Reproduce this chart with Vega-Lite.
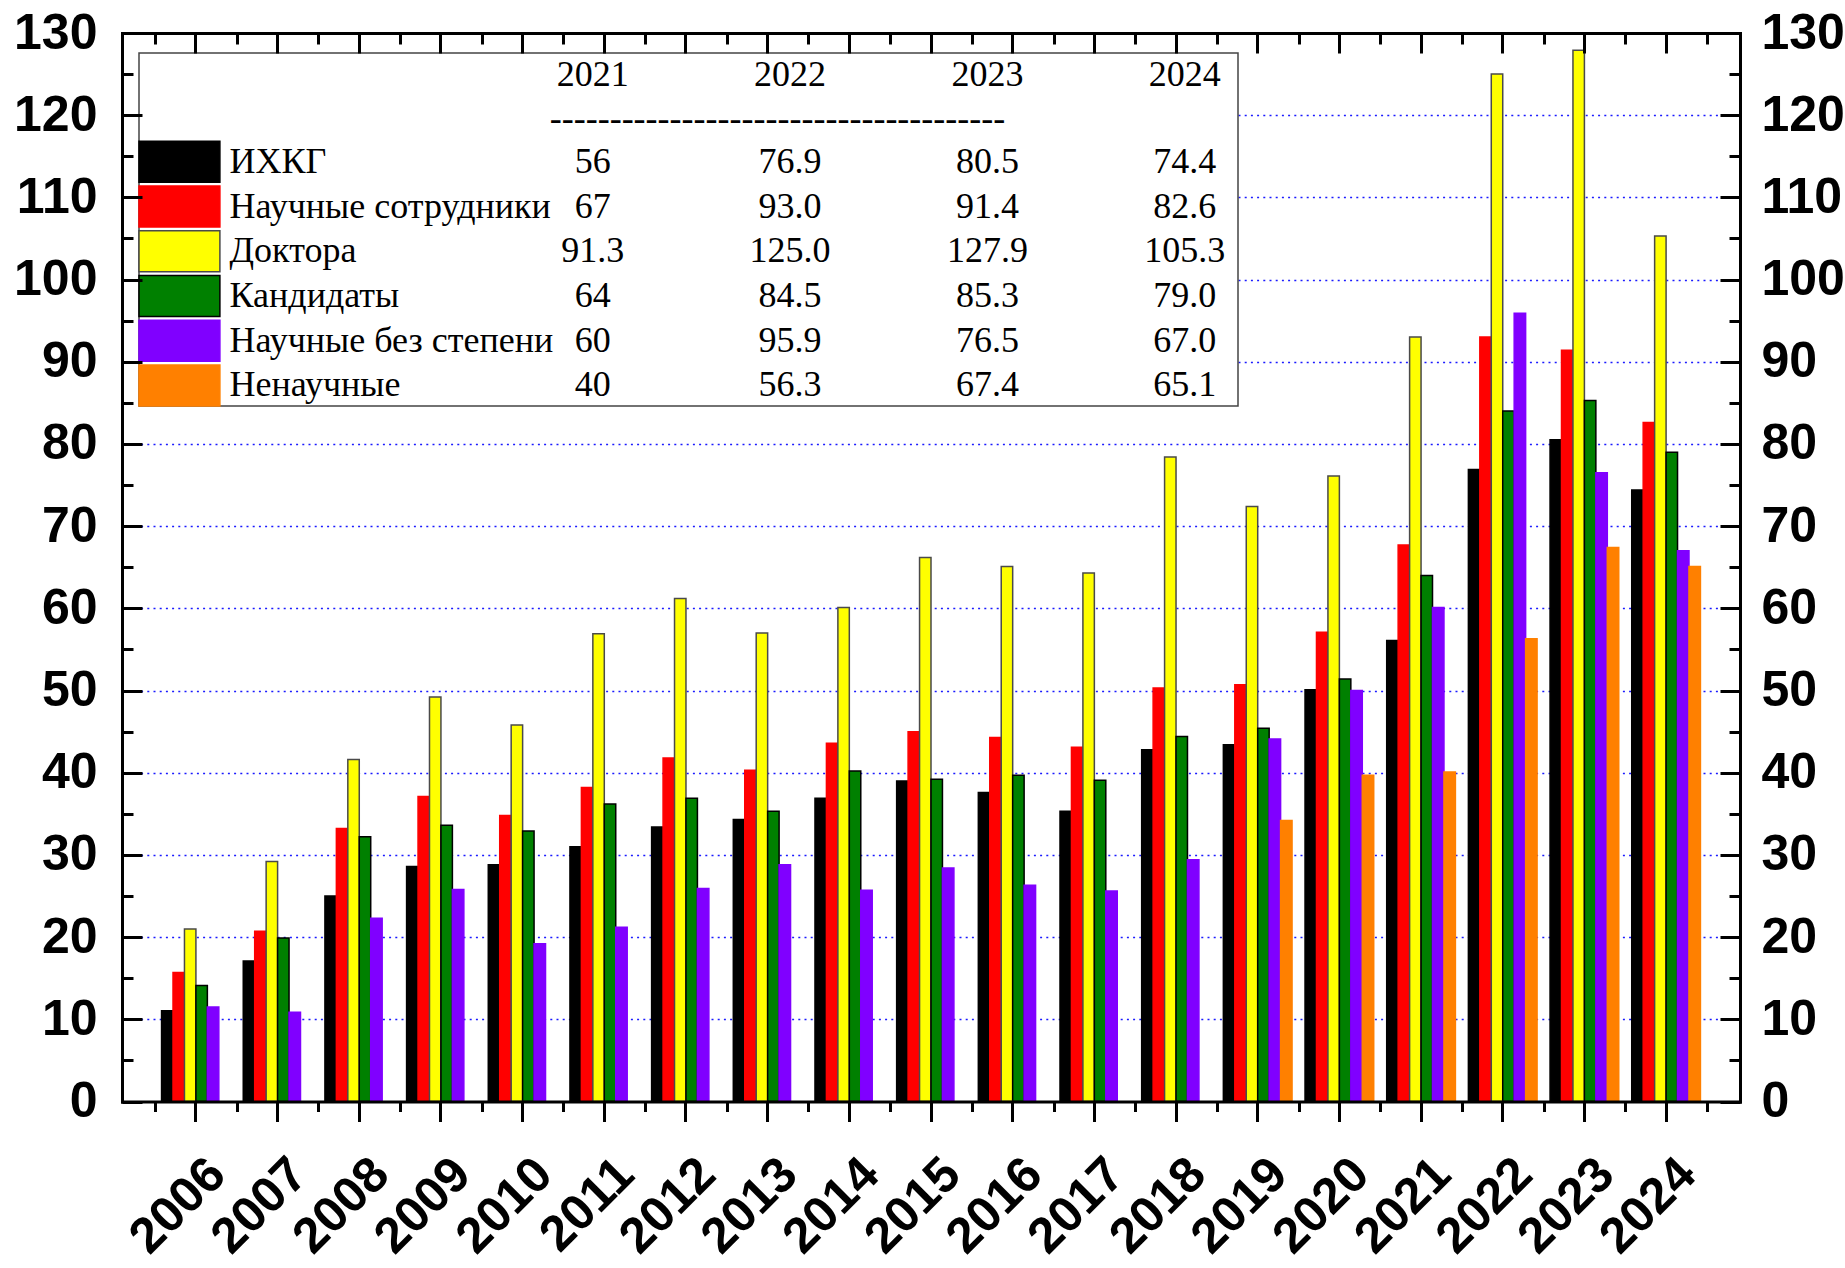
{
  "$schema": "https://vega.github.io/schema/vega-lite/v6.json",
  "width": 1618,
  "height": 1068.5,
  "autosize": {"type": "none"},
  "padding": {"left": 122, "top": 33, "right": 105, "bottom": 166.5},
  "background": "white",
  "config": {
    "view": {"stroke": null},
    "axis": {
      "labelFont": "Liberation Sans",
      "labelFontWeight": "bold",
      "labelFontSize": 50,
      "labelColor": "black",
      "tickColor": "black",
      "domainColor": "black",
      "tickWidth": 3,
      "domainWidth": 3,
      "domainCap": "square",
      "grid": false,
      "labelOverlap": false,
      "labelBound": false
    }
  },
  "datasets": {
    "bars": [
      {"year": "2006", "ИХКГ": 11.05, "Научные сотрудники": 15.7, "Доктора": 21.0, "Кандидаты": 14.1, "Научные без степени": 11.5},
      {"year": "2007", "ИХКГ": 17.1, "Научные сотрудники": 20.7, "Доктора": 29.2, "Кандидаты": 19.9, "Научные без степени": 10.85},
      {"year": "2008", "ИХКГ": 25.0, "Научные сотрудники": 33.2, "Доктора": 41.6, "Кандидаты": 32.2, "Научные без степени": 22.3},
      {"year": "2009", "ИХКГ": 28.6, "Научные сотрудники": 37.1, "Доктора": 49.2, "Кандидаты": 33.6, "Научные без степени": 25.8},
      {"year": "2010", "ИХКГ": 28.8, "Научные сотрудники": 34.8, "Доктора": 45.8, "Кандидаты": 32.9, "Научные без степени": 19.2},
      {"year": "2011", "ИХКГ": 31.0, "Научные сотрудники": 38.2, "Доктора": 56.9, "Кандидаты": 36.2, "Научные без степени": 21.2},
      {"year": "2012", "ИХКГ": 33.4, "Научные сотрудники": 41.8, "Доктора": 61.2, "Кандидаты": 36.9, "Научные без степени": 25.9},
      {"year": "2013", "ИХКГ": 34.3, "Научные сотрудники": 40.3, "Доктора": 57.0, "Кандидаты": 35.3, "Научные без степени": 28.8},
      {"year": "2014", "ИХКГ": 36.9, "Научные сотрудники": 43.6, "Доктора": 60.1, "Кандидаты": 40.2, "Научные без степени": 25.7},
      {"year": "2015", "ИХКГ": 39.0, "Научные сотрудники": 45.0, "Доктора": 66.2, "Кандидаты": 39.2, "Научные без степени": 28.4},
      {"year": "2016", "ИХКГ": 37.6, "Научные сотрудники": 44.3, "Доктора": 65.1, "Кандидаты": 39.7, "Научные без степени": 26.3},
      {"year": "2017", "ИХКГ": 35.3, "Научные сотрудники": 43.1, "Доктора": 64.3, "Кандидаты": 39.1, "Научные без степени": 25.6},
      {"year": "2018", "ИХКГ": 42.8, "Научные сотрудники": 50.3, "Доктора": 78.4, "Кандидаты": 44.4, "Научные без степени": 29.4},
      {"year": "2019", "ИХКГ": 43.4, "Научные сотрудники": 50.7, "Доктора": 72.4, "Кандидаты": 45.4, "Научные без степени": 44.1, "Ненаучные": 34.2},
      {"year": "2020", "ИХКГ": 50.1, "Научные сотрудники": 57.1, "Доктора": 76.1, "Кандидаты": 51.4, "Научные без степени": 50.0, "Ненаучные": 39.7},
      {"year": "2021", "ИХКГ": 56.1, "Научные сотрудники": 67.7, "Доктора": 93.0, "Кандидаты": 64.0, "Научные без степени": 60.1, "Ненаучные": 40.1},
      {"year": "2022", "ИХКГ": 76.9, "Научные сотрудники": 93.0, "Доктора": 125.0, "Кандидаты": 84.0, "Научные без степени": 95.9, "Ненаучные": 56.3},
      {"year": "2023", "ИХКГ": 80.5, "Научные сотрудники": 91.4, "Доктора": 127.9, "Кандидаты": 85.3, "Научные без степени": 76.5, "Ненаучные": 67.4},
      {"year": "2024", "ИХКГ": 74.4, "Научные сотрудники": 82.6, "Доктора": 105.3, "Кандидаты": 79.0, "Научные без степени": 67.0, "Ненаучные": 65.1}
    ],
    "series": [
      {"series": "ИХКГ"},
      {"series": "Научные сотрудники"},
      {"series": "Доктора"},
      {"series": "Кандидаты"},
      {"series": "Научные без степени"},
      {"series": "Ненаучные"}
    ],
    "header": [{"year": 2021}, {"year": 2022}, {"year": 2023}, {"year": 2024}],
    "table": [
      {"series": "ИХКГ", "year": 2021, "v": "56"},
      {"series": "ИХКГ", "year": 2022, "v": "76.9"},
      {"series": "ИХКГ", "year": 2023, "v": "80.5"},
      {"series": "ИХКГ", "year": 2024, "v": "74.4"},
      {"series": "Научные сотрудники", "year": 2021, "v": "67"},
      {"series": "Научные сотрудники", "year": 2022, "v": "93.0"},
      {"series": "Научные сотрудники", "year": 2023, "v": "91.4"},
      {"series": "Научные сотрудники", "year": 2024, "v": "82.6"},
      {"series": "Доктора", "year": 2021, "v": "91.3"},
      {"series": "Доктора", "year": 2022, "v": "125.0"},
      {"series": "Доктора", "year": 2023, "v": "127.9"},
      {"series": "Доктора", "year": 2024, "v": "105.3"},
      {"series": "Кандидаты", "year": 2021, "v": "64"},
      {"series": "Кандидаты", "year": 2022, "v": "84.5"},
      {"series": "Кандидаты", "year": 2023, "v": "85.3"},
      {"series": "Кандидаты", "year": 2024, "v": "79.0"},
      {"series": "Научные без степени", "year": 2021, "v": "60"},
      {"series": "Научные без степени", "year": 2022, "v": "95.9"},
      {"series": "Научные без степени", "year": 2023, "v": "76.5"},
      {"series": "Научные без степени", "year": 2024, "v": "67.0"},
      {"series": "Ненаучные", "year": 2021, "v": "40"},
      {"series": "Ненаучные", "year": 2022, "v": "56.3"},
      {"series": "Ненаучные", "year": 2023, "v": "67.4"},
      {"series": "Ненаучные", "year": 2024, "v": "65.1"}
    ]
  },
  "resolve": {
    "scale": {"x": "independent", "y": "independent"},
    "axis": {"x": "independent", "y": "independent"}
  },
  "layer": [
    {
      "data": {"name": "bars"},
      "transform": [
        {"fold": ["ИХКГ", "Научные сотрудники", "Доктора", "Кандидаты", "Научные без степени", "Ненаучные"], "as": ["series", "value"]}
      ],
      "resolve": {"axis": {"x": "independent", "y": "independent"}},
      "layer": [
        {
          "mark": {"type": "bar", "strokeWidth": 1.5},
          "encoding": {
            "x": {
              "field": "year", "type": "nominal",
              "scale": {"domain": ["2006","2007","2008","2009","2010","2011","2012","2013","2014","2015","2016","2017","2018","2019","2020","2021","2022","2023","2024"], "paddingInner": 0, "paddingOuter": 0.405},
              "axis": {"orient": "bottom", "title": null, "labelAngle": -45, "labelAlign": "right", "labelBaseline": "top", "labelPadding": 27, "labelOffset": 4, "tickSize": 20, "ticks": true, "domain": true, "zindex": 1}
            },
            "y": {
              "field": "value", "type": "quantitative",
              "scale": {"domain": [0, 130], "nice": false, "zero": true},
              "axis": {"orient": "left", "title": null, "ticks": false, "labelPadding": 25, "domain": true, "zindex": 1, "values": [0,10,20,30,40,50,60,70,80,90,100,110,120,130]}
            },
            "xOffset": {
              "field": "series", "type": "nominal",
              "scale": {"domain": ["ИХКГ", "Научные сотрудники", "Доктора", "Кандидаты", "Научные без степени", "Ненаучные"], "paddingInner": 0, "paddingOuter": 0.567}
            },
            "color": {
              "field": "series", "type": "nominal",
              "scale": {"domain": ["ИХКГ", "Научные сотрудники", "Доктора", "Кандидаты", "Научные без степени", "Ненаучные"], "range": ["#000000", "#ff0000", "#ffff00", "#008000", "#8000ff", "#ff8000"]},
              "legend": null
            },
            "stroke": {
              "field": "series", "type": "nominal",
              "scale": {"domain": ["ИХКГ", "Научные сотрудники", "Доктора", "Кандидаты", "Научные без степени", "Ненаучные"], "range": ["#000000", "#ff0000", "#4a4a4a", "#000000", "#8000ff", "#ff8000"]},
              "legend": null
            }
          }
        },
        {
          "mark": {"type": "point", "opacity": 0},
          "encoding": {
            "x": {"field": "year", "type": "nominal",
              "scale": {"domain": ["2006","2007","2008","2009","2010","2011","2012","2013","2014","2015","2016","2017","2018","2019","2020","2021","2022","2023","2024"], "paddingInner": 0, "paddingOuter": 0.405},
              "axis": {"orient": "bottom", "title": null, "labels": false, "domain": false, "tickBand": "extent", "tickSize": 10, "zindex": 1}},
            "y": {"field": "value", "type": "quantitative", "scale": {"domain": [0, 130], "nice": false, "zero": true},
              "axis": {"orient": "left", "title": null, "labels": false, "domain": false, "tickSize": -20, "zindex": 1, "values": [0,10,20,30,40,50,60,70,80,90,100,110,120,130]}}
          }
        },
        {
          "mark": {"type": "point", "opacity": 0},
          "encoding": {
            "x": {"field": "year", "type": "nominal",
              "scale": {"domain": ["2006","2007","2008","2009","2010","2011","2012","2013","2014","2015","2016","2017","2018","2019","2020","2021","2022","2023","2024"], "paddingInner": 0, "paddingOuter": 0.405},
              "axis": {"orient": "top", "title": null, "labels": false, "domain": true, "tickSize": -20, "zindex": 1}},
            "y": {"field": "value", "type": "quantitative", "scale": {"domain": [0, 130], "nice": false, "zero": true},
              "axis": {"orient": "left", "title": null, "labels": false, "domain": false, "tickSize": -11, "zindex": 1, "values": [5,15,25,35,45,55,65,75,85,95,105,115,125]}}
          }
        },
        {
          "mark": {"type": "point", "opacity": 0},
          "encoding": {
            "x": {"field": "year", "type": "nominal",
              "scale": {"domain": ["2006","2007","2008","2009","2010","2011","2012","2013","2014","2015","2016","2017","2018","2019","2020","2021","2022","2023","2024"], "paddingInner": 0, "paddingOuter": 0.405},
              "axis": {"orient": "top", "title": null, "labels": false, "domain": false, "tickBand": "extent", "tickSize": -11, "zindex": 1}},
            "y": {"field": "value", "type": "quantitative", "scale": {"domain": [0, 130], "nice": false, "zero": true},
              "axis": {"orient": "right", "title": null, "ticks": false, "labelPadding": 21, "domain": true, "zindex": 1, "values": [0,10,20,30,40,50,60,70,80,90,100,110,120,130]}}
          }
        },
        {
          "mark": {"type": "point", "opacity": 0},
          "encoding": {
            "x": {"field": "year", "type": "nominal",
              "scale": {"domain": ["2006","2007","2008","2009","2010","2011","2012","2013","2014","2015","2016","2017","2018","2019","2020","2021","2022","2023","2024"], "paddingInner": 0, "paddingOuter": 0.405},
              "axis": null},
            "y": {"field": "value", "type": "quantitative", "scale": {"domain": [0, 130], "nice": false, "zero": true},
              "axis": {"orient": "right", "title": null, "labels": false, "domain": false, "tickSize": -20, "zindex": 1, "values": [0,10,20,30,40,50,60,70,80,90,100,110,120,130]}}
          }
        },
        {
          "mark": {"type": "point", "opacity": 0},
          "encoding": {
            "x": {"field": "year", "type": "nominal",
              "scale": {"domain": ["2006","2007","2008","2009","2010","2011","2012","2013","2014","2015","2016","2017","2018","2019","2020","2021","2022","2023","2024"], "paddingInner": 0, "paddingOuter": 0.405},
              "axis": null},
            "y": {"field": "value", "type": "quantitative", "scale": {"domain": [0, 130], "nice": false, "zero": true},
              "axis": {"orient": "right", "title": null, "labels": false, "domain": false, "tickSize": -11, "zindex": 1, "values": [5,15,25,35,45,55,65,75,85,95,105,115,125]}}
          }
        },
        {
          "mark": {"type": "point", "opacity": 0},
          "encoding": {
            "x": {"field": "year", "type": "nominal",
              "scale": {"domain": ["2006","2007","2008","2009","2010","2011","2012","2013","2014","2015","2016","2017","2018","2019","2020","2021","2022","2023","2024"], "paddingInner": 0, "paddingOuter": 0.405},
              "axis": null},
            "y": {"field": "value", "type": "quantitative", "scale": {"domain": [0, 130], "nice": false, "zero": true},
              "axis": {"orient": "left", "title": null, "labels": false, "domain": false, "ticks": false, "grid": true, "gridColor": "#1a1aff", "gridDash": [2, 4.2], "gridWidth": 1.5, "zindex": 0, "values": [10,20,30,40,50,60,70,80,90,100,110,120]}}
          }
        }
      ]
    },
    {
      "resolve": {"scale": {"y": "independent"}},
      "layer": [
        {
          "layer": [
            {
              "data": {"values": [{}]},
              "mark": {"type": "rect", "fill": "white", "stroke": "#444444", "strokeWidth": 1.5},
              "encoding": {
                "x": {"datum": 2018.7, "type": "quantitative", "scale": {"type": "linear", "domain": [2018.7, 2024.27], "range": [17, 1116], "zero": false, "nice": false}, "axis": null},
                "x2": {"datum": 2024.27},
                "y": {"datum": 0, "type": "quantitative", "scale": {"type": "linear", "domain": [0, 8], "range": [20, 373], "zero": false, "nice": false}, "axis": null},
                "y2": {"datum": 8}
              }
            },
            {
              "data": {"name": "header"},
              "mark": {"type": "text", "font": "Liberation Serif", "fontSize": 36, "color": "black", "align": "center", "baseline": "middle"},
              "encoding": {
                "x": {"field": "year", "type": "quantitative", "scale": {"type": "linear", "domain": [2018.7, 2024.27], "range": [17, 1116], "zero": false, "nice": false}, "axis": null},
                "y": {"datum": 0.5, "type": "quantitative", "scale": {"type": "linear", "domain": [0, 8], "range": [20, 373], "zero": false, "nice": false}, "axis": null},
                "text": {"field": "year", "type": "nominal"}
              }
            },
            {
              "data": {"values": [{}]},
              "mark": {"type": "text", "font": "Liberation Serif", "fontSize": 36, "color": "black", "align": "center", "baseline": "middle", "text": "--------------------------------------"},
              "encoding": {
                "x": {"datum": 2021.936, "type": "quantitative", "scale": {"type": "linear", "domain": [2018.7, 2024.27], "range": [17, 1116], "zero": false, "nice": false}, "axis": null},
                "y": {"datum": 1.5, "type": "quantitative", "scale": {"type": "linear", "domain": [0, 8], "range": [20, 373], "zero": false, "nice": false}, "axis": null}
              }
            }
          ]
        },
        {
          "layer": [
            {
              "data": {"name": "series"},
              "mark": {"type": "rect", "strokeWidth": 1.5},
              "encoding": {
                "x": {"datum": 2018.7, "type": "quantitative", "scale": {"type": "linear", "domain": [2018.7, 2024.27], "range": [17, 1116], "zero": false, "nice": false}, "axis": null},
                "x2": {"datum": 2019.11},
                "y": {"field": "series", "type": "nominal", "scale": {"type": "band", "domain": ["ИХКГ", "Научные сотрудники", "Доктора", "Кандидаты", "Научные без степени", "Ненаучные"], "range": [108.25, 373], "paddingInner": 0.083, "paddingOuter": 0}, "axis": null},
                "color": {"field": "series", "type": "nominal", "legend": null},
                "stroke": {"field": "series", "type": "nominal", "legend": null}
              }
            },
            {
              "data": {"name": "series"},
              "mark": {"type": "text", "font": "Liberation Serif", "fontSize": 36, "color": "black", "align": "left", "baseline": "middle"},
              "encoding": {
                "x": {"datum": 2019.159, "type": "quantitative", "scale": {"type": "linear", "domain": [2018.7, 2024.27], "range": [17, 1116], "zero": false, "nice": false}, "axis": null},
                "y": {"field": "series", "type": "nominal", "scale": {"type": "band", "domain": ["ИХКГ", "Научные сотрудники", "Доктора", "Кандидаты", "Научные без степени", "Ненаучные"], "range": [108.25, 373], "paddingInner": 0.083, "paddingOuter": 0}, "axis": null},
                "text": {"field": "series", "type": "nominal"}
              }
            },
            {
              "data": {"name": "table"},
              "mark": {"type": "text", "font": "Liberation Serif", "fontSize": 36, "color": "black", "align": "center", "baseline": "middle"},
              "encoding": {
                "x": {"field": "year", "type": "quantitative", "scale": {"type": "linear", "domain": [2018.7, 2024.27], "range": [17, 1116], "zero": false, "nice": false}, "axis": null},
                "y": {"field": "series", "type": "nominal", "scale": {"type": "band", "domain": ["ИХКГ", "Научные сотрудники", "Доктора", "Кандидаты", "Научные без степени", "Ненаучные"], "range": [108.25, 373], "paddingInner": 0.083, "paddingOuter": 0}, "axis": null},
                "text": {"field": "v", "type": "nominal"}
              }
            }
          ]
        }
      ]
    }
  ]
}
